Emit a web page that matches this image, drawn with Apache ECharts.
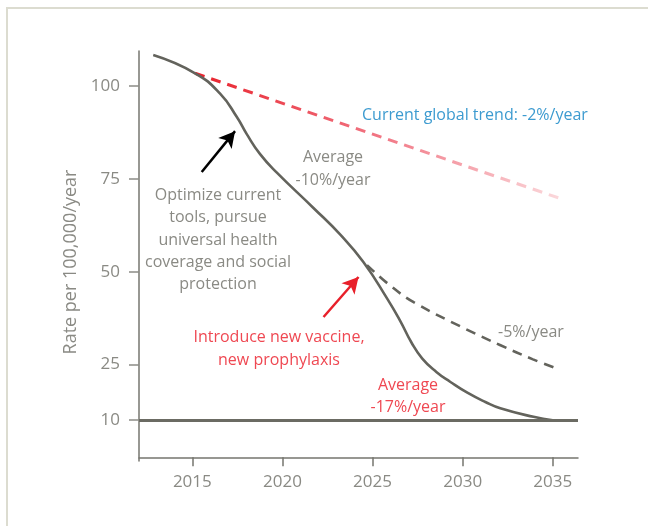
<!DOCTYPE html>
<html>
<head>
<meta charset="utf-8">
<script src="https://cdn.jsdelivr.net/npm/echarts@6/dist/echarts.min.js"></script>
<style>
  html, body { margin: 0; padding: 0; background: #fff; }
  #main { width: 648px; height: 526px; }
</style>
</head>
<body>
<div id="main"></div>
<script>
// main pathway (solid curve)
var mainYears = [2012.83, 2015.15, 2016.54, 2017.47, 2018.02, 2018.76, 2019.69, 2021.72, 2023.21, 2024.48, 2025.82, 2026.54, 2027.15, 2027.76, 2028.54, 2029.32, 2030.26, 2031.26, 2032.09, 2033.93, 2035];
var mainRates = [108.4, 103.5, 98.0, 91.7, 87.1, 81.7, 76.7, 67.2, 60.0, 52.7, 42.7, 36.7, 31.0, 26.6, 23.0, 20.3, 17.4, 14.9, 13.2, 10.9, 10];
// current global trend -2%/year
var trendYears = [2015.15, 2035.33];
var trendRates = [103.5, 69.9];
// -5%/year branch
var slowYears = [2024.69, 2025.9, 2027.28, 2030.2, 2032.1, 2033.9, 2035.4];
var slowRates = [51.8, 46.6, 41.8, 34.5, 30.2, 26.4, 23.6];
var targetRate = 10;
var xTicks = [2015, 2020, 2025, 2030, 2035];
var yTicks = [10, 25, 50, 75, 100];

function pairs(xs, ys) {
  return xs.map(function (x, i) { return [x, ys[i]]; });
}

var font = '"Open Sans", "Noto Sans", sans-serif';
var grey = '#8a8a84';
var red = '#ef4852';
var lineCol = '#63635c';

var chart = echarts.init(document.getElementById('main'));

chart.setOption({
  animation: false,
  textStyle: { fontFamily: font },
  grid: { left: 139, top: 51, right: 70, bottom: 65, containLabel: false },
  xAxis: {
    type: 'value',
    min: 2012.04,
    max: 2036.4,
    splitLine: { show: false },
    axisLine: { lineStyle: { color: '#76766f', width: 1.5 } },
    axisTick: { customValues: xTicks, length: 9, lineStyle: { color: '#76766f', width: 1.5 } },
    axisLabel: {
      customValues: xTicks, margin: 13, color: grey, fontSize: 17, fontFamily: font,
      formatter: function (v) { return String(v); }
    }
  },
  yAxis: {
    type: 'value',
    min: -1,
    max: 109.5,
    name: 'Rate per 100,000/year',
    nameLocation: 'middle',
    nameRotate: 90,
    nameGap: 57,
    nameTextStyle: { color: grey, fontSize: 18, fontFamily: font, padding: [0, 0, 0, -12] },
    splitLine: { show: false },
    axisLine: { lineStyle: { color: '#76766f', width: 1.5 } },
    axisTick: { customValues: yTicks, length: 10, lineStyle: { color: '#8c8c86', width: 1.5 } },
    axisLabel: { customValues: yTicks, margin: 19, color: grey, fontSize: 17, fontFamily: font }
  },
  series: [
    {
      type: 'line',
      data: pairs(trendYears, trendRates),
      symbol: 'none',
      lineStyle: {
        width: 3,
        type: [10, 7],
        color: new echarts.graphic.LinearGradient(0, 0, 1, 0, [
          { offset: 0, color: '#e8202a' },
          { offset: 0.5, color: '#f17583' },
          { offset: 1, color: '#fbd9dc' }
        ])
      },
      z: 2,
      markLine: {
        silent: true,
        animation: false,
        symbol: ['none', 'none'],
        label: { show: false },
        lineStyle: { type: 'solid', color: '#6b6b63', width: 3 },
        data: [{ yAxis: targetRate }]
      }
    },
    {
      type: 'line',
      data: pairs(slowYears, slowRates),
      symbol: 'none',
      smooth: 0.4,
      lineStyle: { width: 2.6, type: [10, 7], color: lineCol },
      z: 2
    },
    {
      type: 'line',
      data: pairs(mainYears, mainRates),
      symbol: 'none',
      smooth: 0.5,
      lineStyle: { width: 2.6, color: lineCol },
      z: 3,
      markLine: {
        silent: true,
        animation: false,
        symbol: ['none', 'arrow'],
        symbolSize: [13, 16],
        label: { show: false },
        data: [
          [
            { coord: [2015.52, 76.9], lineStyle: { type: 'solid', color: '#000', width: 2.5 } },
            { coord: [2017.37, 87.9] }
          ],
          [
            { coord: [2022.28, 37.8], lineStyle: { type: 'solid', color: '#e8202a', width: 2.5 } },
            { coord: [2024.22, 48.6] }
          ]
        ]
      }
    }
  ],
  graphic: [
    {
      type: 'rect', silent: true, z: -1,
      shape: { x: 7, y: 8, width: 700, height: 600 },
      style: { fill: 'none', stroke: '#dcdcd0', lineWidth: 2 }
    },
    {
      type: 'text', left: 362, top: 107,
      style: { text: 'Current global trend: -2%/year', fill: '#3d9bd0', font: '16px ' + font }
    },
    {
      type: 'text', x: 333, y: 146,
      style: { text: 'Average\n-10%/year', fill: grey, font: '16px ' + font, align: 'center', lineHeight: 23 }
    },
    {
      type: 'text', x: 218, y: 184,
      style: {
        text: 'Optimize current\ntools, pursue\nuniversal health\ncoverage and social\nprotection',
        fill: grey, font: '16px ' + font, align: 'center', lineHeight: 22.4
      }
    },
    {
      type: 'text', x: 279, y: 326,
      style: { text: 'Introduce new vaccine,\nnew prophylaxis', fill: red, font: '16px ' + font, align: 'center', lineHeight: 23 }
    },
    {
      type: 'text', left: 498, top: 324,
      style: { text: '-5%/year', fill: grey, font: '16px ' + font }
    },
    {
      type: 'text', x: 408, y: 374,
      style: { text: 'Average\n-17%/year', fill: red, font: '16px ' + font, align: 'center', lineHeight: 22 }
    }
  ]
});
</script>
</body>
</html>
